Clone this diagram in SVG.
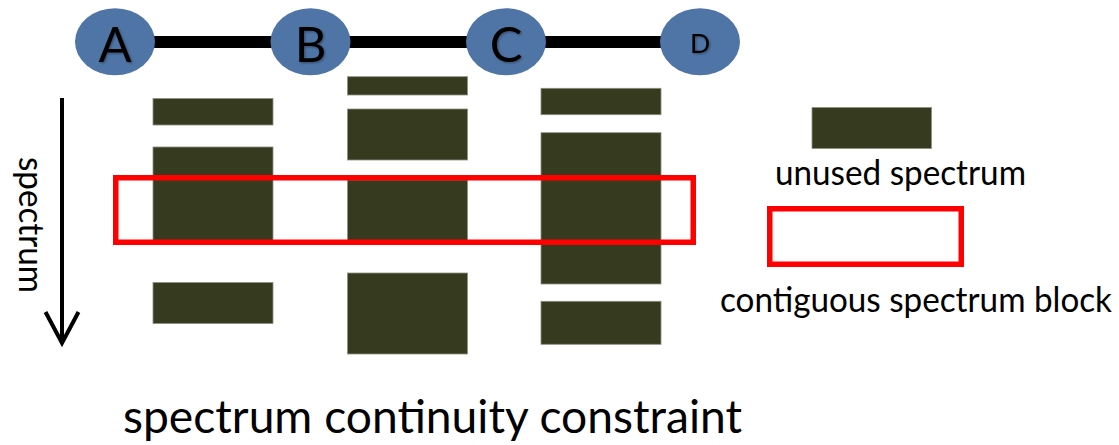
<svg xmlns="http://www.w3.org/2000/svg" width="1119" height="445" viewBox="0 0 1119 445">
  <style>
    .node { fill: #4F75A6; }
    .nlabel { font-family: "Lato", "Liberation Sans", sans-serif; fill: #000; text-anchor: middle; }
    .link { stroke: #000; stroke-width: 12; fill: none; }
    .used { fill: #363B20; stroke: #8E9080; stroke-width: 0.8; }
    .block { fill: none; stroke: #FF0000; stroke-width: 5.5; }
    .txt { font-family: "Lato", "Liberation Sans", sans-serif; fill: #000; }
  </style>
  <defs>
    <filter id="shadow" x="-30%" y="-30%" width="160%" height="160%">
      <feDropShadow dx="1.2" dy="1.2" stdDeviation="1" flood-color="#000" flood-opacity="0.35"/>
    </filter>
  </defs>

  <rect width="1119" height="445" fill="#fff"/>

  <!-- links between the path nodes -->
  <g id="connectors">
    <line class="link" x1="115" y1="42" x2="310.5" y2="42"/>
    <line class="link" x1="310.5" y1="42" x2="506" y2="42"/>
    <line class="link" x1="506" y1="42" x2="700" y2="42"/>
  </g>

  <g id="node-A">
    <ellipse class="node" cx="115" cy="41.7" rx="40" ry="33.5"/>
    <text class="nlabel" x="115" y="61.5" font-size="49" filter="url(#shadow)">A</text>
  </g>
  <g id="node-B">
    <ellipse class="node" cx="310.5" cy="41.7" rx="40" ry="33.5"/>
    <text class="nlabel" x="310.5" y="61.5" font-size="49" filter="url(#shadow)">B</text>
  </g>
  <g id="node-C">
    <ellipse class="node" cx="506" cy="41.7" rx="40" ry="33.5"/>
    <text class="nlabel" x="506" y="61.5" font-size="49" filter="url(#shadow)">C</text>
  </g>
  <g id="node-D">
    <ellipse class="node" cx="700" cy="41.7" rx="40" ry="33.5"/>
    <text class="nlabel" x="700" y="52.5" font-size="26.5" filter="url(#shadow)">D</text>
  </g>

  <!-- spectrum axis -->
  <g id="axis">
    <line x1="62" y1="98" x2="62" y2="342" stroke="#000" stroke-width="4"/>
    <polyline points="45.5,312 62,343 78.5,312" fill="none" stroke="#000" stroke-width="4" stroke-linejoin="miter"/>
    <text class="txt" font-size="34" text-anchor="middle" textLength="136" lengthAdjust="spacingAndGlyphs" transform="translate(18.5,225) rotate(90)">spectrum</text>
  </g>

  <!-- occupied slots per link -->
  <g id="link-AB">
    <rect class="used" x="153" y="98.5" width="120" height="26.5"/>
    <rect class="used" x="153" y="147" width="120" height="94"/>
    <rect class="used" x="153" y="282.5" width="120" height="41"/>
  </g>
  <g id="link-BC">
    <rect class="used" x="347.5" y="76.7" width="120" height="18.3"/>
    <rect class="used" x="347.5" y="109" width="120" height="51"/>
    <rect class="used" x="347.5" y="180" width="120" height="61"/>
    <rect class="used" x="347.5" y="273" width="120" height="81"/>
  </g>
  <g id="link-CD">
    <rect class="used" x="541" y="88.3" width="120" height="26.4"/>
    <rect class="used" x="541" y="132.7" width="120" height="151.3"/>
    <rect class="used" x="541" y="301.3" width="120" height="43"/>
  </g>

  <!-- common free block across all links -->
  <rect id="free-block" class="block" x="115.75" y="177.75" width="577.5" height="64.5"/>

  <!-- legend -->
  <g id="legend">
    <rect class="used" x="812" y="107.5" width="119.5" height="41"/>
    <text class="txt" x="900.5" y="185" font-size="34" text-anchor="middle" textLength="251" lengthAdjust="spacingAndGlyphs">unused spectrum</text>
    <rect class="block" x="769.75" y="208.75" width="191.5" height="55.5"/>
    <text class="txt" x="916" y="312" font-size="34" text-anchor="middle" textLength="392" lengthAdjust="spacingAndGlyphs">contiguous spectrum block</text>
  </g>

  <text id="title" class="txt" x="432.5" y="433" font-size="46" text-anchor="middle" textLength="619" lengthAdjust="spacingAndGlyphs">spectrum continuity constraint</text>
</svg>
